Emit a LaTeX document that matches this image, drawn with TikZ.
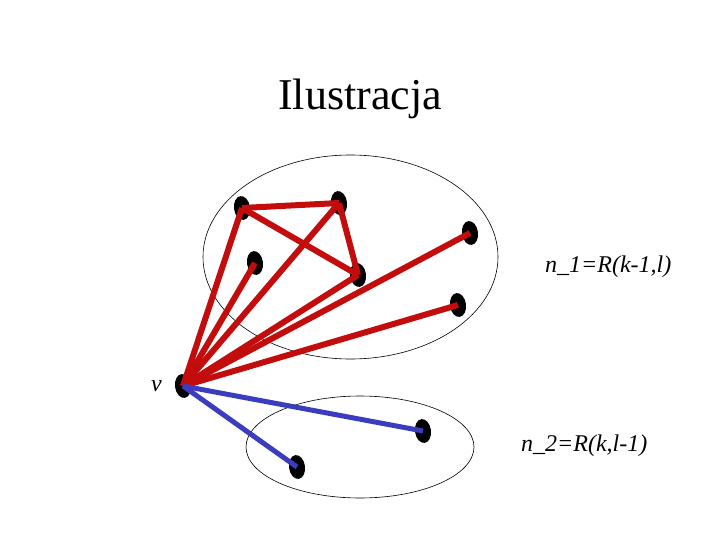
\documentclass[tikz,border=0pt]{standalone}
\usepackage{fontspec}
\setmainfont{Liberation Serif}
\usetikzlibrary{shapes.geometric}
\definecolor{edgered}{RGB}{195,12,12}
\definecolor{edgeblue}{RGB}{60,60,190}
\tikzset{
  vdot/.style={ellipse,fill=black,inner sep=0pt,minimum width=16pt,minimum height=24pt,rotate=8},
  rededge/.style={draw=edgered,line width=6pt},
  blueedge/.style={draw=edgeblue,line width=5pt},
  setell/.style={draw=black,line width=0.6pt},
  lbl/.style={font=\fontsize{24}{28}\selectfont\itshape,inner sep=0pt}
}
\begin{document}
\begin{tikzpicture}[x=1pt,y=-1pt]
\useasboundingbox (0,0) rectangle (720,540);
\node[font=\fontsize{44}{50}\selectfont,anchor=base,inner sep=0pt] (title) at (360,110) {Ilustracja};
% set ellipses
\draw[setell] (350.5,257) ellipse[x radius=147.5,y radius=102];
\draw[setell] (360,447) ellipse[x radius=114,y radius=51];
% vertices
\node[vdot] (v) at (183,386) {};
\node[vdot] (A) at (242,208) {};
\node[vdot] (B) at (339,203) {};
\node[vdot] (C) at (255,263) {};
\node[vdot] (D) at (358,275) {};
\node[vdot] (E) at (470,233) {};
\node[vdot] (F) at (458,305) {};
\node[vdot] (G) at (423,431) {};
\node[vdot] (H) at (297,467) {};
% edges
\draw[rededge] (A.center) -- (B.center);
\draw[rededge] (A.center) -- (D.center);
\draw[rededge] (B.center) -- (D.center);
\foreach \t in {A,B,C,D,E,F} \draw[rededge] (v.center) -- (\t.center);
\draw[blueedge] (v.center) -- (G.center);
\draw[blueedge] (v.center) -- (H.center);
% labels
\node[lbl,anchor=base west] (l1) at (545,272) {n\_1=R(k-1,l)};
\node[lbl,anchor=base west] (l2) at (521,451) {n\_2=R(k,l-1)};
\node[lbl,anchor=base west] (lv) at (151,391) {v};
\end{tikzpicture}
\end{document}
